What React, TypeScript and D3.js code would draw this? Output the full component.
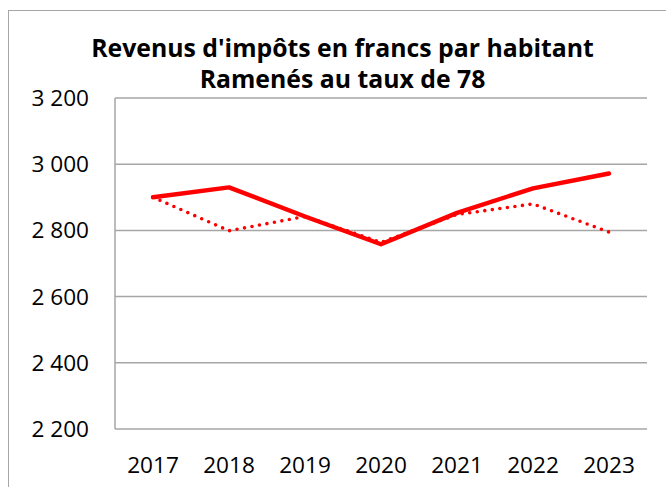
import React from "react";
import * as d3 from "d3";

const years = ["2017", "2018", "2019", "2020", "2021", "2022", "2023"];
const solidValues = [2900, 2930, 2842, 2758, 2853, 2927, 2972];
const dottedValues = [2900, 2799, 2842, 2764, 2848, 2880, 2795];
const yTicks = [2200, 2400, 2600, 2800, 3000, 3200];
const titleLines = ["Revenus d'impôts en francs par habitant", "Ramenés au taux de 78"];

const W = 666;
const H = 487;
const plot = { left: 115, right: 647, top: 98, bottom: 429 };
const FONT = "'Open Sans', 'Noto Sans', sans-serif";

export default function App() {
  const x = d3.scaleBand<string>().domain(years).range([plot.left, plot.right]).padding(0);
  const y = d3.scaleLinear().domain([2200, 3200]).range([plot.bottom, plot.top]);
  const cx = (d: string) => (x(d) as number) + x.bandwidth() / 2;
  const line = d3
    .line<number>()
    .x((_, i) => cx(years[i]))
    .y((v) => y(v));
  const fmt = (v: number) => d3.format(",")(v).replace(",", " ");

  return (
    <div style={{ position: "absolute", left: 0, top: 0 }}>
      <svg width={W} height={H} style={{ display: "block", background: "#fff" }}>
        <rect x={8.5} y={10.5} width={W + 20} height={H + 20} fill="#fff" stroke="#a6a6a6" strokeWidth={1} />
        {titleLines.map((t, i) => (
          <text
            key={i}
            x={342.5}
            y={57 + i * 31}
            textAnchor="middle"
            fontFamily={FONT}
            fontWeight="bold"
            fontSize={24.8}
            fill="#000"
          >
            {t}
          </text>
        ))}
        {yTicks.map((t) => (
          <g key={t}>
            <line x1={plot.left} x2={plot.right} y1={y(t)} y2={y(t)} stroke="#a6a6a6" strokeWidth={1.5} />
            <text
              x={89}
              y={y(t) + 8}
              textAnchor="end"
              fontFamily={FONT}
              fontSize={22.6}
              fill="#000"
            >
              {fmt(t)}
            </text>
          </g>
        ))}
        <line x1={plot.left} x2={plot.left} y1={plot.top} y2={plot.bottom} stroke="#a6a6a6" strokeWidth={1.5} />
        {years.map((yr) => (
          <text
            key={yr}
            x={cx(yr)}
            y={473}
            textAnchor="middle"
            fontFamily={FONT}
            fontSize={22.6}
            fill="#000"
          >
            {yr}
          </text>
        ))}
        <path
          d={line(dottedValues) || ""}
          fill="none"
          stroke="#ff0000"
          strokeWidth={3.6}
          strokeLinecap="round"
          strokeDasharray="0 7.6"
        />
        <path
          d={line(solidValues) || ""}
          fill="none"
          stroke="#ff0000"
          strokeWidth={4.4}
          strokeLinecap="round"
          strokeLinejoin="round"
        />
      </svg>
    </div>
  );
}
